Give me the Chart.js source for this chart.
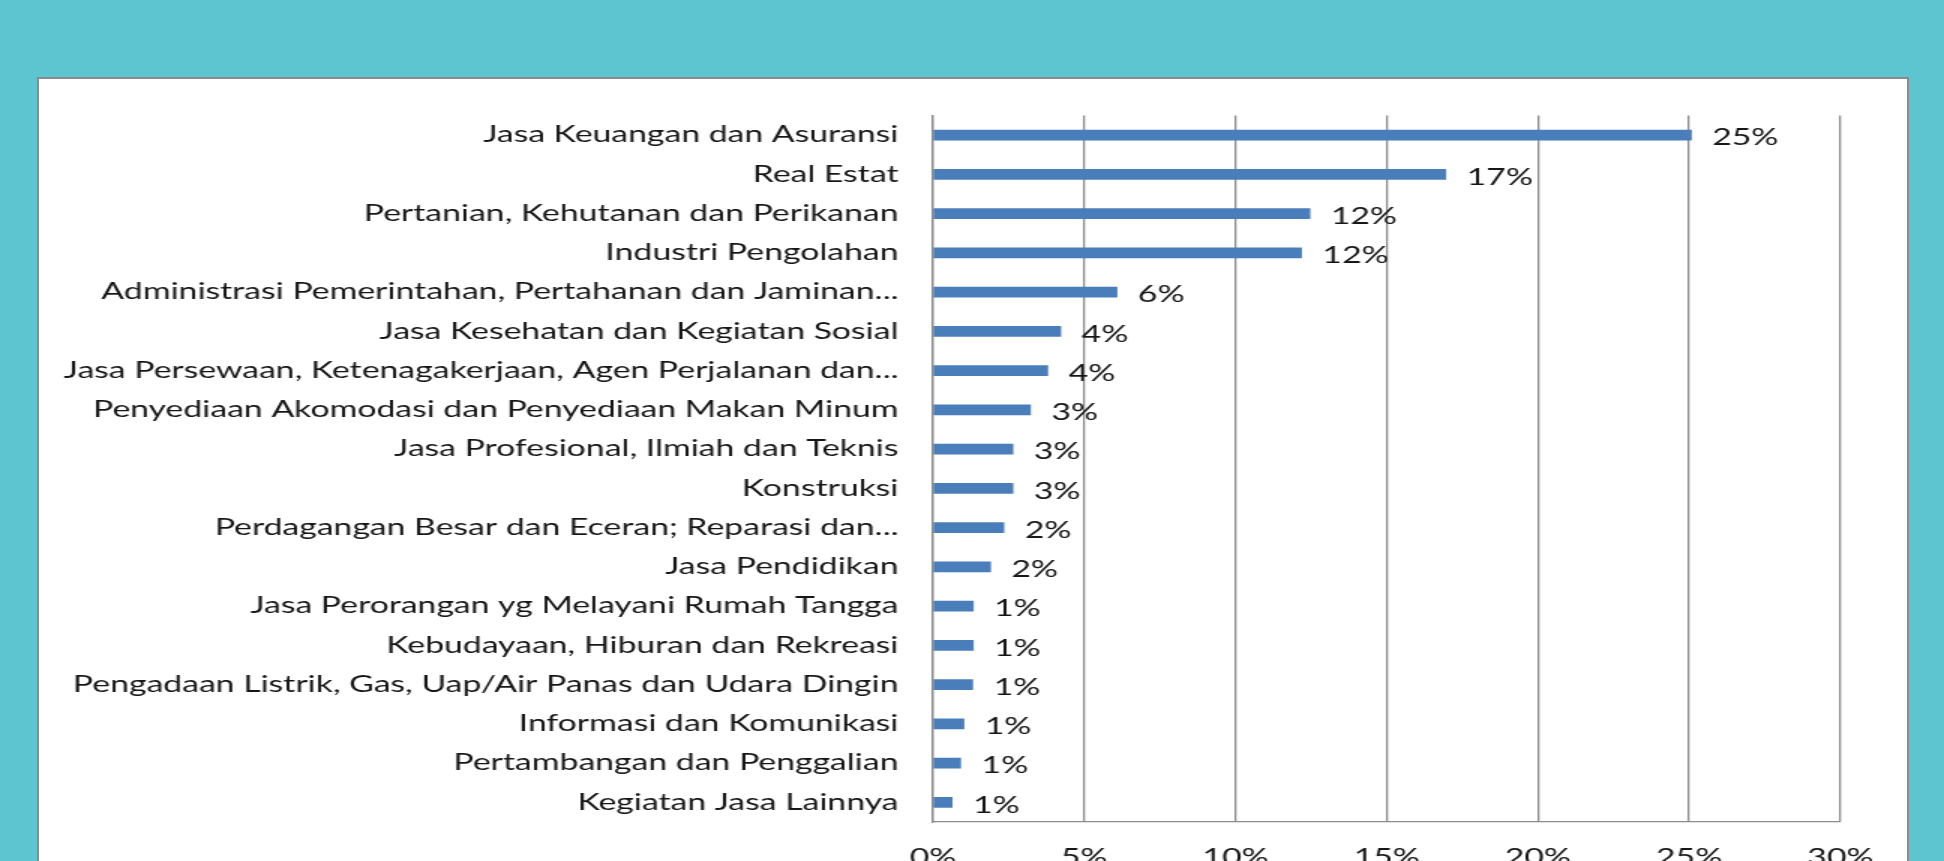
<!DOCTYPE html>
<html>
<head>
<meta charset="utf-8">
<script src="https://cdn.jsdelivr.net/npm/chart.js@4.4.1/dist/chart.umd.min.js"></script>
<style>
  html, body {
    margin: 0;
    padding: 0;
    width: 1944px;
    height: 861px;
    overflow: hidden;
    background: #5cc5d0;
  }
  .panel {
    position: absolute;
    left: 37px;
    top: 77px;
    width: 1868px;
    height: 820px;
    background: #fff;
    border: 2px solid #8a8a8a;
    border-bottom: none;
    overflow: hidden;
  }
  /* the source picture is stretched sideways, so the chart is too */
  .stretch {
    position: absolute;
    left: 0;
    top: 0;
    width: 1245px;
    height: 790px;
    transform: scaleX(1.5);
    transform-origin: 0 0;
  }
</style>
</head>
<body>
<div class="panel">
  <div class="stretch">
    <canvas id="sectorChart"></canvas>
  </div>
</div>
<script>
// Chart data
const sectors = [
  "Jasa Keuangan dan Asuransi",
  "Real Estat",
  "Pertanian, Kehutanan dan Perikanan",
  "Industri Pengolahan",
  "Administrasi Pemerintahan, Pertahanan dan Jaminan...",
  "Jasa Kesehatan dan Kegiatan Sosial",
  "Jasa Persewaan, Ketenagakerjaan, Agen Perjalanan dan...",
  "Penyediaan Akomodasi dan Penyediaan Makan Minum",
  "Jasa Profesional, Ilmiah dan Teknis",
  "Konstruksi",
  "Perdagangan Besar dan Eceran; Reparasi dan...",
  "Jasa Pendidikan",
  "Jasa Perorangan yg Melayani Rumah Tangga",
  "Kebudayaan, Hiburan dan Rekreasi",
  "Pengadaan Listrik, Gas, Uap/Air Panas dan Udara Dingin",
  "Informasi dan Komunikasi",
  "Pertambangan dan Penggalian",
  "Kegiatan Jasa Lainnya",
];
const shares = [
  25.07, 16.95, 12.46, 12.18, 6.08, 4.22, 3.79, 3.22, 2.64,
  2.64, 2.34, 1.9, 1.33, 1.33, 1.31, 1.02, 0.91, 0.63,
];
const xTicks = [0, 5, 10, 15, 20, 25, 30];

const labelFont = { family: "Lato", size: 22.5 };

// value labels drawn right of each bar
const valueLabels = {
  id: "valueLabels",
  afterDatasetsDraw(chart) {
    const ctx = chart.ctx;
    const meta = chart.getDatasetMeta(0);
    ctx.save();
    ctx.font = labelFont.size + "px " + labelFont.family;
    ctx.fillStyle = "#161616";
    ctx.textAlign = "left";
    ctx.textBaseline = "middle";
    meta.data.forEach((bar, i) => {
      ctx.fillText(Math.round(shares[i]) + "%", bar.x + 14, bar.y + 3);
    });
    ctx.restore();
  },
};

const ctx = document.getElementById("sectorChart").getContext("2d");
const sectorChart = new Chart(ctx, {
  type: "bar",
  data: {
    labels: sectors,
    datasets: [
      {
        data: shares,
        backgroundColor: "#4a7ebb",
        borderWidth: 0,
        barThickness: 10,
      },
    ],
  },
  options: {
    indexAxis: "y",
    responsive: true,
    maintainAspectRatio: false,
    animation: false,
    layout: {
      padding: { top: 36, right: 44, left: 0, bottom: 0 },
    },
    scales: {
      x: {
        min: 0,
        max: 30,
        afterBuildTicks: function (scale) {
          scale.ticks = xTicks.map((v) => ({ value: v }));
        },
        afterFit: function (scale) {
          scale.height = 47;
        },
        ticks: {
          callback: function (value) {
            return value + "%";
          },
          font: labelFont,
          color: "#161616",
          padding: 22,
          maxRotation: 0,
        },
        grid: {
          color: "#8c8c8c",
          lineWidth: 1.3,
          drawTicks: false,
        },
        border: { color: "#8c8c8c", width: 1.3 },
      },
      y: {
        afterFit: function (scale) {
          scale.width = 596;
        },
        ticks: {
          font: labelFont,
          color: "#161616",
          padding: 23,
          autoSkip: false,
        },
        grid: { display: false, drawTicks: false },
        border: { color: "#8c8c8c", width: 1.3 },
      },
    },
    plugins: {
      legend: { display: false },
      tooltip: { enabled: false },
    },
  },
  plugins: [valueLabels],
});
</script>
</body>
</html>
